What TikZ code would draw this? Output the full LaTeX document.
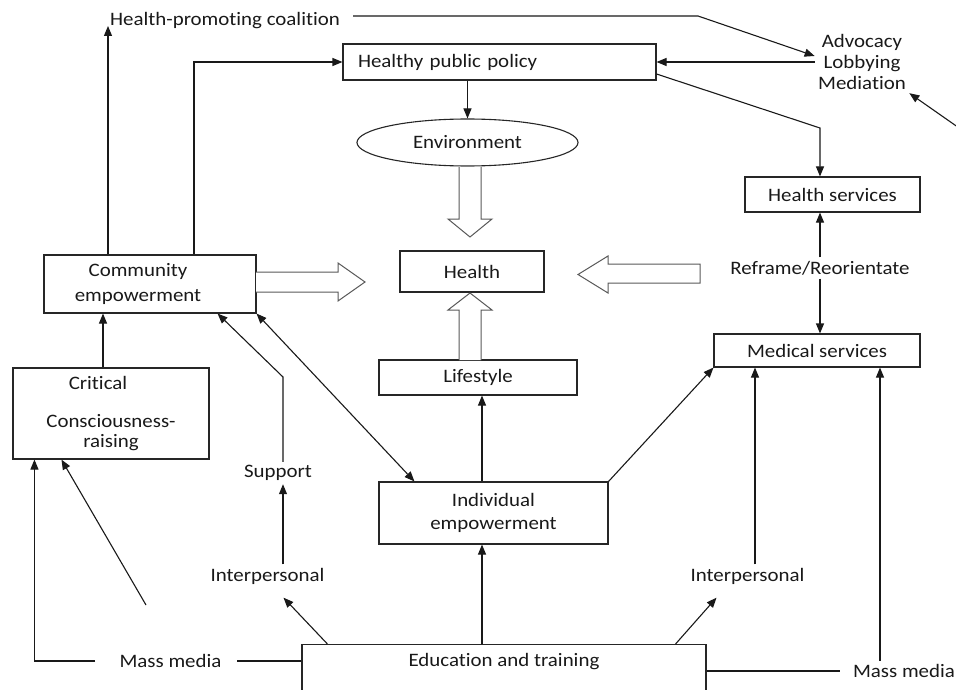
\documentclass[tikz,border=0pt]{standalone}
\usepackage{fontspec}
\setmainfont{Carlito}[FakeStretch=1.1, Ligatures=NoCommon]
\usetikzlibrary{arrows.meta,shapes.geometric}

\begin{document}
\begin{tikzpicture}[x=1pt, y=-1pt,
	every node/.style={font=\fontsize{19}{23}\selectfont, text=black!90},
	box/.style={draw=black!85, line width=1.1pt, inner sep=0pt, align=center},
	arr/.style={draw=black!90, line width=1.1pt, -{Triangle[length=10pt,width=8pt]}},
	dbl/.style={draw=black!90, line width=1.1pt, {Triangle[length=10pt,width=8pt]}-{Triangle[length=10pt,width=8pt]}},
	conn/.style={draw=black!90, line width=1.1pt},
	hollow/.style={draw=black!65, line width=1pt, fill=white, line join=miter}]

	\useasboundingbox (0,0) rectangle (956,690);
	\clip (0,0) rectangle (956,690);

	% boxes
	\node[box, minimum height=36pt, inner xsep=15pt, text width=283pt, align=left] (hpp) at (499.5,62) {Healthy public policy};
	\node[draw=black!85, line width=1.1pt, ellipse, inner sep=0pt, minimum width=221pt, minimum height=47pt] (env) at (467.5,142.5) {Environment};
	\node[box, minimum width=175pt, minimum height=35pt] (hs)     at (832.5,194.5) {Health services};
	\node[box, minimum width=144pt, minimum height=41pt] (health) at (472,271.5)   {Health};
	\node[box, minimum width=212pt, minimum height=58pt] (comm)   at (150,284)     {Community\hspace*{24pt}\\[2pt]empowerment\hspace*{24pt}};
	\node[box, minimum width=196pt, minimum height=91pt] (crit)   at (111,413.5)   {Critical\hspace*{26pt}\\[15pt]Consciousness-\\[-3pt]raising};
	\node[box, minimum width=206pt, minimum height=33pt] (med)    at (817,350.5)   {Medical services};
	\node[box, minimum width=198pt, minimum height=35pt] (life)   at (478,377.5)   {Lifestyle};
	\node[box, minimum width=229pt, minimum height=62pt] (indiv)  at (493.5,513)   {Individual\\empowerment};
	\node[draw=black!85, line width=1.1pt, inner sep=0pt, minimum width=404pt, text height=22pt, text depth=40pt, anchor=north] (edu) at (504,644) {Education and training};

	% labels
	\node[anchor=base west, inner sep=2pt] (coal) at (108,26) {Health-promoting coalition};
	\node[align=center, font=\fontsize{19}{21}\selectfont] (adv) at (862,62) {Advocacy\\Lobbying\\Mediation};
	\node (rr)  at (820,268)   {Reframe/Reorientate};
	\node (sup) at (278,473)   {Support};
	\node (ipL) at (267.5,576) {Interpersonal};
	\node (ipR) at (747.5,576) {Interpersonal};
	\node (mmL) at (170.5,661) {Mass media};
	\node (mmR) at (904,671)   {Mass media};

	\coordinate (k1)  at (698,16);
	\coordinate (k2)  at (820,128);
	\coordinate (k3)  at (283,377);
	\coordinate (k6)  at (146,605);
	\coordinate (rin) at (962,130);
	\coordinate (dx)  at (103,0);
	\coordinate (ax)  at (482,0);
	\coordinate (bx)  at (755,0);
	\coordinate (cx)  at (880,0);

	% connectors
	\draw[arr] (comm.north -| coal.base west) -- (coal.base west);
	\draw[arr, shorten <=11pt] (coal.east |- k1) -- (k1) -- ([yshift=6pt]adv.west);
	\draw[arr] (adv.west) -- (hpp.east);
	\draw[arr] (rin) -- (adv.south east);
	\draw[arr] ([xshift=44pt]comm.north) |- (hpp.west);
	\draw[arr] (hpp.south -| env.north) -- (env.north);
	\draw[arr] ([yshift=-12pt]hpp.east) -- (k2) -- (hs.north -| k2);
	\draw[arr] (rr) -- (hs.south -| rr);
	\draw[arr] (rr) -- (med.north -| rr);
	\draw[arr] (crit.north -| dx) -- (comm.south -| dx);
	\draw[dbl] (comm.south east) -- ([xshift=36pt]indiv.north west);
	\draw[arr] (sup.north -| k3) -- (k3) -- ([xshift=-39pt]comm.south east);
	\draw[arr] (ipL.north -| k3) -- (sup.south -| k3);
	\draw[arr] ([xshift=26pt]edu.north west) -- ([xshift=16pt,yshift=-10pt]ipL.south);
	\draw[arr] (edu.north -| ax) -- (indiv.south -| ax);
	\draw[arr] (indiv.north -| ax) -- (life.south -| ax);
	\draw[arr] (indiv.north east) -- (med.south west);
	\draw[arr] ([xshift=-31pt]edu.north east) -- ([xshift=-31pt,yshift=-10pt]ipR.south);
	\draw[arr] (ipR.north -| bx) -- (med.south -| bx);
	\draw[conn, shorten >=10pt] (edu.east |- mmR) -- (mmR.west);
	\draw[arr] (mmR.north -| cx) -- (med.south -| cx);
	\draw[conn, shorten >=12pt] (edu.west |- mmL) -- (mmL.east);
	\draw[arr, shorten <=21pt] (mmL.west) -| ([xshift=22pt]crit.south west);
	\draw[arr] (k6) -- ([xshift=49pt]crit.south west);

	% block arrows into Health
	\draw[hollow] (459,167) -- (459,219) -- (448,219) -- (470,237) -- (492,219) -- (481,219) -- (481,167);
	\draw[hollow] (459,360) -- (459,310) -- (448,310) -- (470,293) -- (492,310) -- (481,310) -- (481,360);
	\draw[hollow] (256,272) -- (338,272) -- (338,263) -- (365,282) -- (338,301) -- (338,292) -- (256,292);
	\draw[hollow] (700,264) -- (608,264) -- (608,256) -- (578,274.5) -- (608,293) -- (608,283) -- (700,283) -- cycle;

\end{tikzpicture}
\end{document}
